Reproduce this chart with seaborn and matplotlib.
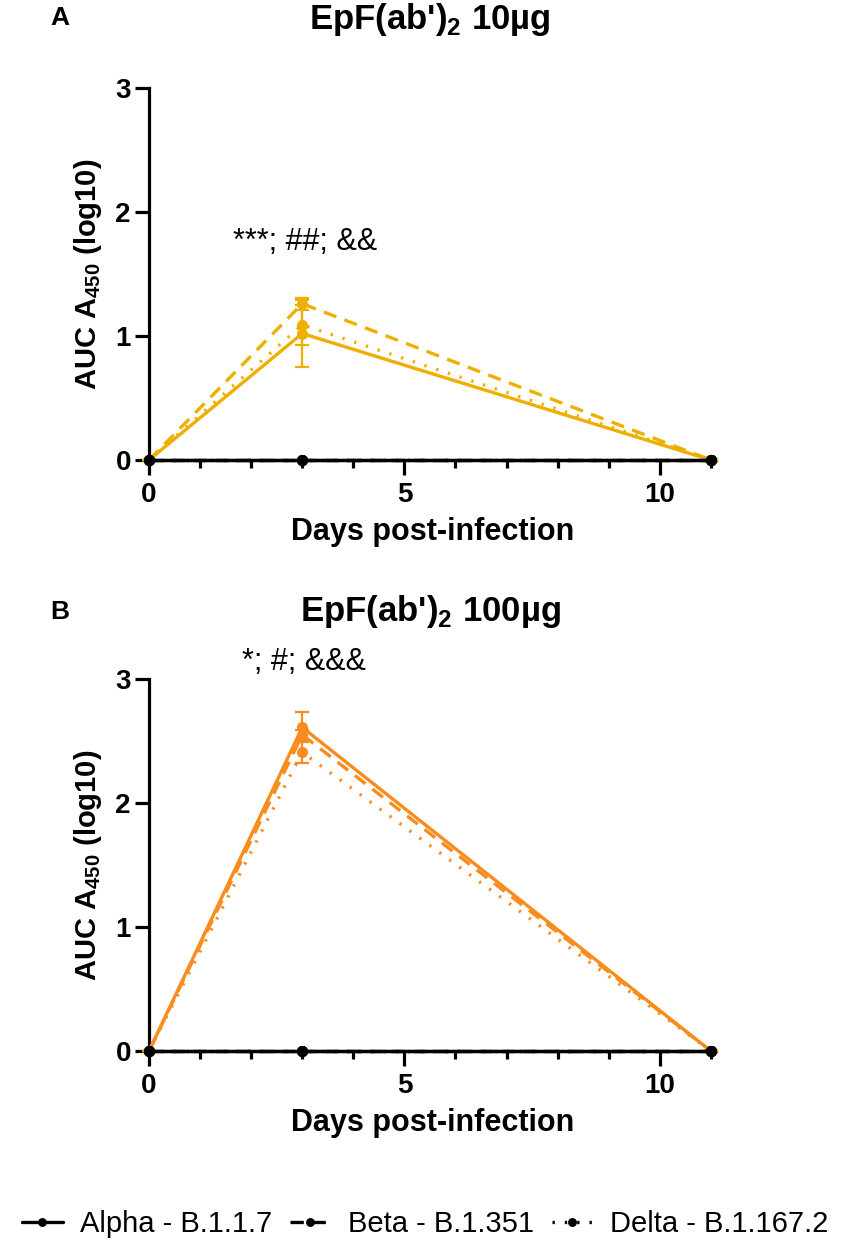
import numpy as np
import pandas as pd
import matplotlib
matplotlib.use("Agg")
import matplotlib.pyplot as plt
import seaborn as sns
from matplotlib.ticker import MultipleLocator

sns.set_theme(style="ticks")
plt.rcParams['font.family'] = ['Liberation Sans', 'DejaVu Sans']
plt.rcParams['mathtext.fontset'] = 'custom'
plt.rcParams['mathtext.rm'] = 'Liberation Sans'
plt.rcParams['mathtext.bf'] = 'Liberation Sans:bold'
plt.rcParams['text.color'] = 'black'
plt.rcParams['axes.labelcolor'] = 'black'
plt.rcParams['xtick.color'] = 'black'
plt.rcParams['ytick.color'] = 'black'

days = [0, 3, 11]
variants = ["Alpha - B.1.1.7", "Beta - B.1.351", "Delta - B.1.167.2"]

# Panel A: EpF(ab')2 10µg
a_alpha = [0.0, 1.02, 0.0]
a_beta = [0.0, 1.26, 0.0]
a_delta = [0.0, 1.09, 0.0]
a_alpha_sd = [0.0, 0.27, 0.0]
a_beta_sd = [0.0, 0.05, 0.0]
a_delta_sd = [0.0, 0.16, 0.0]

# Panel B: EpF(ab')2 100µg
b_alpha = [0.0, 2.61, 0.0]
b_beta = [0.0, 2.55, 0.0]
b_delta = [0.0, 2.41, 0.0]
b_alpha_sd = [0.0, 0.12, 0.0]
b_beta_sd = [0.0, 0.04, 0.0]
b_delta_sd = [0.0, 0.09, 0.0]

# Control (black) series at zero
control = [0.0, 0.0, 0.0]

titles = ["EpF(ab')$_\\mathbf{2}$ 10µg", "EpF(ab')$_\\mathbf{2}$ 100µg"]
annots = ["***; ##; &&", "*; #; &&&"]
panel_letters = ["A", "B"]
colors = ["#EFAF00", "#F98C1E"]

def make_df(a, b, c):
    rows = []
    for v, vals in zip(variants, [a, b, c]):
        for d, y in zip(days, vals):
            rows.append({"day": d, "value": y, "variant": v})
    return pd.DataFrame(rows)

fig = plt.figure(figsize=(8.5, 12.42), dpi=100)
W, H = 850, 1242
axA = fig.add_axes([149 / W, 1 - 460 / H, (716 - 149) / W, 372 / H])
axB = fig.add_axes([149 / W, 1 - 1051 / H, (716 - 149) / W, 372 / H])

panels = [
    (axA, [a_alpha, a_beta, a_delta], [a_alpha_sd, a_beta_sd, a_delta_sd]),
    (axB, [b_alpha, b_beta, b_delta], [b_alpha_sd, b_beta_sd, b_delta_sd]),
]

dash_map = {variants[0]: "", variants[1]: (4.0, 2.6), variants[2]: (0.7, 3.0)}

for i, (ax, series, sds) in enumerate(panels):
    df = make_df(*series)
    col = colors[i]
    sns.lineplot(data=df, x="day", y="value", style="variant", dashes=dash_map,
                 markers={v: "o" for v in variants}, markersize=8,
                 color=col, linewidth=2.4, markeredgewidth=0, ax=ax,
                 legend=False, clip_on=False, zorder=3)
    for vals, sd in zip(series, sds):
        ax.errorbar(days, vals, yerr=sd, fmt="none", ecolor=col,
                    elinewidth=1.6, capsize=5, capthick=1.6, zorder=3, clip_on=False)
    ctrl = make_df(control, control, control)
    sns.lineplot(data=ctrl, x="day", y="value", style="variant", dashes=dash_map,
                 markers={v: "o" for v in variants}, markersize=8,
                 color="black", linewidth=2.4, markeredgewidth=0, ax=ax,
                 legend=(i == 1), clip_on=False, zorder=4)

    ax.set_xlim(0, 11.1)
    ax.set_ylim(0, 3)
    ax.xaxis.set_major_locator(MultipleLocator(5))
    ax.xaxis.set_minor_locator(MultipleLocator(1))
    ax.yaxis.set_major_locator(MultipleLocator(1))
    for s in ["top", "right"]:
        ax.spines[s].set_visible(False)
    for s in ["left", "bottom"]:
        ax.spines[s].set_linewidth(2.3)
        ax.spines[s].set_color("black")
    ax.tick_params(axis="x", which="major", length=11, width=2.3, direction="out",
                   labelsize=20, pad=5, colors="black")
    ax.tick_params(axis="x", which="minor", length=6, width=2.3, direction="out")
    ax.tick_params(axis="y", which="major", length=10, width=2.3, direction="out",
                   labelsize=20, pad=3, colors="black")
    for lab in ax.get_xticklabels() + ax.get_yticklabels():
        lab.set_fontweight("bold")
    ax.set_xlabel("Days post-infection", fontsize=22, fontweight="bold", labelpad=6)
    ax.set_ylabel("AUC A$_\\mathbf{450}$ (log10)", fontsize=21, fontweight="bold", labelpad=8)
    ax.set_facecolor("white")

fig.text(430 / W, 1 - 20 / H, titles[0], ha="center", va="center", fontsize=25, fontweight="bold")
fig.text(430 / W, 1 - 612 / H, titles[1], ha="center", va="center", fontsize=25, fontweight="bold")
fig.text(60 / W, 1 - 18 / H, "A", ha="center", va="center", fontsize=19, fontweight="bold")
fig.text(60 / W, 1 - 612 / H, "B", ha="center", va="center", fontsize=19, fontweight="bold")
fig.text(305 / W, 1 - 242 / H, annots[0], ha="center", va="center", fontsize=22)
fig.text(304 / W, 1 - 662 / H, annots[1], ha="center", va="center", fontsize=22)

leg = axB.get_legend()
handles = leg.legend_handles
labels = [t.get_text() for t in leg.get_texts()]
leg.remove()
fig.legend(handles, labels, loc="center", bbox_to_anchor=(0.5, 1 - 1224 / H), ncol=3,
           frameon=False, fontsize=21, handlelength=1.4, handletextpad=0.6,
           columnspacing=0.6, markerscale=0.8)

fig.savefig("out.png", dpi=100, facecolor="white")
